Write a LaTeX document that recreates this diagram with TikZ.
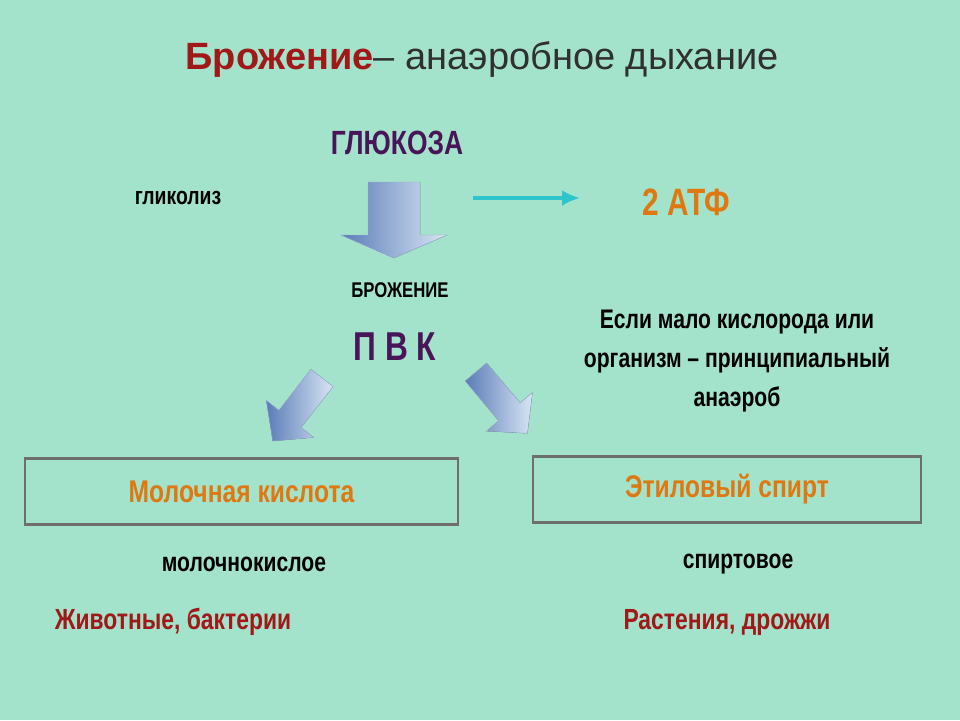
\documentclass[tikz,border=0pt]{standalone}
\usepackage{fontspec}
\setmainfont{Liberation Sans}
\usetikzlibrary{arrows.meta}
\definecolor{bgmint}{HTML}{A3E2CB}
\definecolor{darkred}{HTML}{A01818}
\definecolor{titlegrey}{HTML}{303030}
\definecolor{glupurple}{HTML}{4A1458}
\definecolor{atforange}{HTML}{E07810}
\definecolor{arrowcyan}{HTML}{2EC4CC}
\definecolor{boxgrey}{HTML}{6E6E6E}
\definecolor{fatdark}{HTML}{5A7CB8}
\definecolor{fatlight}{HTML}{D8E6F4}
\tikzset{
  narrow/.style={xscale=0.88, yscale=1.12},
  prodbox/.style={draw=boxgrey, line width=2.5pt, minimum height=66pt},
  prodlabel/.style={narrow, font=\bfseries\fontsize{28}{30}\selectfont, text=atforange},
  fatarrow/.style={left color=fatdark, right color=fatlight, draw=fatdark!60, line width=0.4pt}
}
\begin{document}
\begin{tikzpicture}[x=1pt,y=-1pt]
\fill[bgmint] (0,0) rectangle (960,720);
\useasboundingbox (0,0) rectangle (960,720);

% title
\node (title) at (482,60) {\fontsize{38}{42}\selectfont\textcolor{darkred}{\bfseries Брожение}\textcolor{titlegrey}{ – анаэробное дыхание}};

\node[narrow, text=glupurple, font=\bfseries\fontsize{30}{32}\selectfont] (gluc) at (397,143) {ГЛЮКОЗА};
\node[narrow, font=\bfseries\fontsize{22}{24}\selectfont] (glyc) at (178,198) {гликолиз};
\node[narrow, font=\bfseries\fontsize{34}{36}\selectfont, text=atforange] (atf) at (686,202) {2 АТФ};
\node[narrow, font=\bfseries\fontsize{19}{22}\selectfont] (ferm) at (400,290) {БРОЖЕНИЕ};
\node[narrow, font=\bfseries\fontsize{36}{38}\selectfont, text=glupurple] (pvk) at (395,347) {П В К};
\node[narrow, font=\bfseries\fontsize{24}{34.5}\selectfont, align=center] (cond) at (737,361)
  {Если мало кислорода или\\организм – принципиальный\\анаэроб};

% fat arrows
\fill[fatarrow] (368,182) -- (420,182) -- (420,235) -- (447,235) -- (394,258) -- (341,235) -- (368,235) -- cycle;
\begin{scope}[shift={(322,378)}, rotate=-38]
  \fill[fatarrow] (-14,0) -- (14,0) -- (14,52) -- (30,52) -- (0,80) -- (-30,52) -- (-14,52) -- cycle;
\end{scope}
\begin{scope}[shift={(476,372)}, rotate=40]
  \fill[fatarrow] (-14,0) -- (14,0) -- (14,52) -- (30,52) -- (0,80) -- (-30,52) -- (-14,52) -- cycle;
\end{scope}

\coordinate (cyanstart) at (473,198);
\coordinate (cyanend) at (580,198);
\draw[arrowcyan, line width=4pt, -{Latex[length=18pt,width=16pt]}] (cyanstart) -- (cyanend);

% products
\node[prodbox, minimum width=433pt] (lacbox) at (241.5,491.5) {};
\node[prodlabel] (lac) at (lacbox) {Молочная кислота};
\node[prodbox, minimum width=388pt] (ethbox) at (727,489.5) {};
\node[prodlabel] (eth) at (ethbox) {Этиловый спирт};

\node[narrow, font=\bfseries\fontsize{24}{26}\selectfont] (lactype) at (244,564) {молочнокислое};
\node[narrow, font=\bfseries\fontsize{24}{26}\selectfont] (ethtype) at (738,564) {спиртовое};
\node[narrow, font=\bfseries\fontsize{26}{28}\selectfont, text=darkred] (lacorg) at (173,622) {Животные, бактерии};
\node[narrow, font=\bfseries\fontsize{26}{28}\selectfont, text=darkred] (ethorg) at (727,622) {Растения, дрожжи};
\end{tikzpicture}
\end{document}
